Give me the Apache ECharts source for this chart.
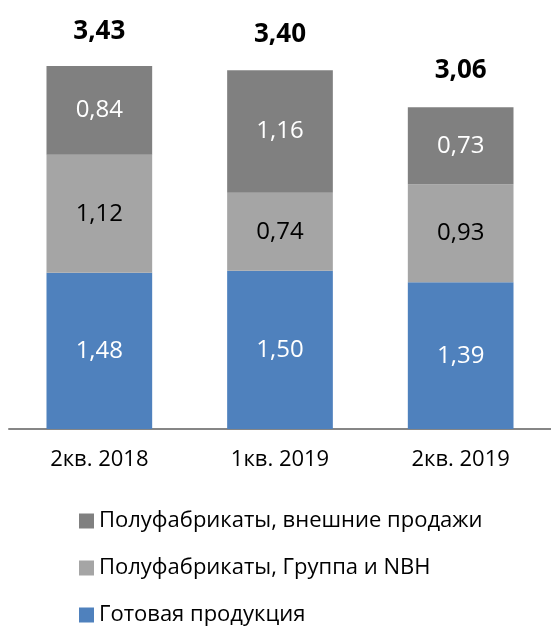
<!DOCTYPE html>
<html>
<head>
<meta charset="utf-8">
<script src="https://cdn.jsdelivr.net/npm/echarts@6/dist/echarts.min.js"></script>
<style>
  html, body { margin: 0; padding: 0; background: #fff; }
  #main { width: 551px; height: 630px; }
</style>
</head>
<body>
<div id="main"></div>
<script>
// данные
var categories = ['2кв. 2018', '1кв. 2019', '2кв. 2019'];
var ready = [1.48, 1.50, 1.39];          // Готовая продукция
var semiGroup = [1.12, 0.74, 0.93];      // Полуфабрикаты, Группа и NBH
var semiExternal = [0.84, 1.16, 0.73];   // Полуфабрикаты, внешние продажи
var totals = [3.43, 3.40, 3.06];

var FONT = '"Open Sans", "Noto Sans", sans-serif';

function fmt(p) {
  return p.value.toFixed(2).replace('.', ',');
}

var chart = echarts.init(document.getElementById('main'));

function barSeries(name, data, color, labelColor) {
  return {
    name: name,
    type: 'bar',
    stack: 'all',
    barWidth: '58.5%',
    data: data,
    itemStyle: { color: color },
    label: {
      show: true,
      position: 'inside',
      formatter: fmt,
      color: labelColor,
      fontSize: 24,
      fontFamily: FONT
    }
  };
}

var option = {
  backgroundColor: '#ffffff',
  animation: false,
  grid: { left: 9, right: -12, top: 7, bottom: 201 },
  xAxis: {
    type: 'category',
    data: categories,
    axisLine: { lineStyle: { color: '#868686', width: 2 } },
    axisTick: { show: false },
    axisLabel: { color: '#000', fontSize: 22, fontFamily: FONT, margin: 20 }
  },
  yAxis: {
    type: 'value',
    min: 0,
    max: 4,
    show: false
  },
  legend: {
    orient: 'vertical',
    left: 79,
    top: 510,
    padding: 0,
    itemWidth: 15,
    itemHeight: 15,
    itemGap: 25,
    icon: 'rect',
    data: ['Полуфабрикаты, внешние продажи', 'Полуфабрикаты, Группа и NBH', 'Готовая продукция'],
    textStyle: { color: '#000', fontSize: 22, fontFamily: FONT }
  },
  series: [
    barSeries('Готовая продукция', ready, '#4f81bd', '#ffffff'),
    barSeries('Полуфабрикаты, Группа и NBH', semiGroup, '#a5a5a5', '#000000'),
    barSeries('Полуфабрикаты, внешние продажи', semiExternal, '#808080', '#ffffff'),
    {
      // итоговые суммы над столбцами
      name: 'total',
      type: 'line',
      data: totals,
      symbol: 'circle',
      symbolSize: 2,
      itemStyle: { color: 'rgba(0,0,0,0)' },
      lineStyle: { width: 0, color: 'rgba(0,0,0,0)' },
      z: 10,
      label: {
        show: true,
        position: 'top',
        distance: 22,
        formatter: fmt,
        color: '#000',
        fontSize: 26,
        fontWeight: 'bold',
        fontFamily: FONT
      }
    }
  ]
};

chart.setOption(option);
</script>
</body>
</html>
